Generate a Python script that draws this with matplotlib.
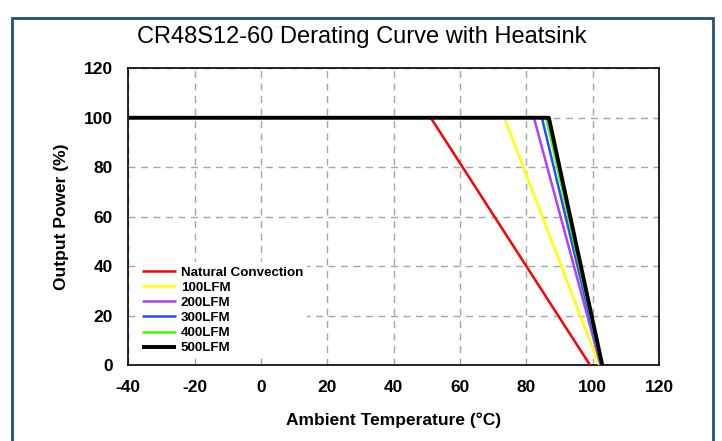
import matplotlib
matplotlib.use("Agg")
import matplotlib.pyplot as plt
from matplotlib.patches import Rectangle

plt.rcParams['font.family'] = ['Liberation Sans', 'DejaVu Sans']
plt.rcParams['axes.unicode_minus'] = False

# derating curves: (temperature °C, output power %)
labels = ["Natural Convection", "100LFM", "200LFM", "300LFM", "400LFM", "500LFM"]
colors = ["#ff0000", "#ffff00", "#b040ff", "#2050ff", "#40ff00", "#000000"]
knee_temp = [51.2, 73.4, 82.3, 84.7, 86.0, 86.8]
end_temp = [99.2, 102.0, 102.4, 102.6, 102.7, 102.9]
start_temp = -40
full_power = 100

x_ticks = [-40, -20, 0, 20, 40, 60, 80, 100, 120]
y_ticks = [0, 20, 40, 60, 80, 100, 120]

fig = plt.figure(figsize=(7.22, 4.41), dpi=100)
ax = fig.add_axes([0.1777, 0.1723, 0.7350, 0.6728])

# blue frame round the chart
fig.patches.append(Rectangle((12 / 722, -0.05), (713 - 12) / 722, 1.05 - 18 / 441,
                             transform=fig.transFigure, fill=False,
                             edgecolor="#1f4e79", linewidth=2))

for lab, col, k, e in zip(labels, colors, knee_temp, end_temp):
    lw = 2.8 if col == "#000000" else 1.8
    ax.plot([start_temp, k, e], [full_power, full_power, 0], color=col, lw=lw,
            label=lab, solid_capstyle="butt", zorder=3)

ax.set_xlim(-40, 120)
ax.set_ylim(0, 120)
ax.set_xticks(x_ticks)
ax.set_yticks(y_ticks)
ax.tick_params(length=0, labelsize=12.5)
ax.tick_params(axis="y", pad=11)
ax.tick_params(axis="x", pad=11)
for t in ax.get_xticklabels() + ax.get_yticklabels():
    t.set_fontweight("bold")

ax.grid(True, color="#9aaaa8", linestyle=(0, (5, 4)), linewidth=1)
for s in ax.spines.values():
    s.set_color("black")
    s.set_linewidth(1.2)

ax.set_xlabel("Ambient Temperature (°C)", fontsize=12.5, fontweight="bold", labelpad=12)
ax.set_ylabel("Output Power (%)", fontsize=12.5, fontweight="bold", labelpad=11)
fig.text(0.501, 0.916, "CR48S12-60 Derating Curve with Heatsink", fontsize=17,
         ha="center", va="center")

leg = ax.legend(loc="lower left", bbox_to_anchor=(0.005, 0.0), frameon=True,
                fancybox=False, edgecolor="none", framealpha=1,
                prop={"weight": "bold", "size": 9.6}, handlelength=2.6,
                handletextpad=0.35, labelspacing=0.21, borderpad=0.3)
leg.set_zorder(5)

fig.savefig("out.png", dpi=100)
